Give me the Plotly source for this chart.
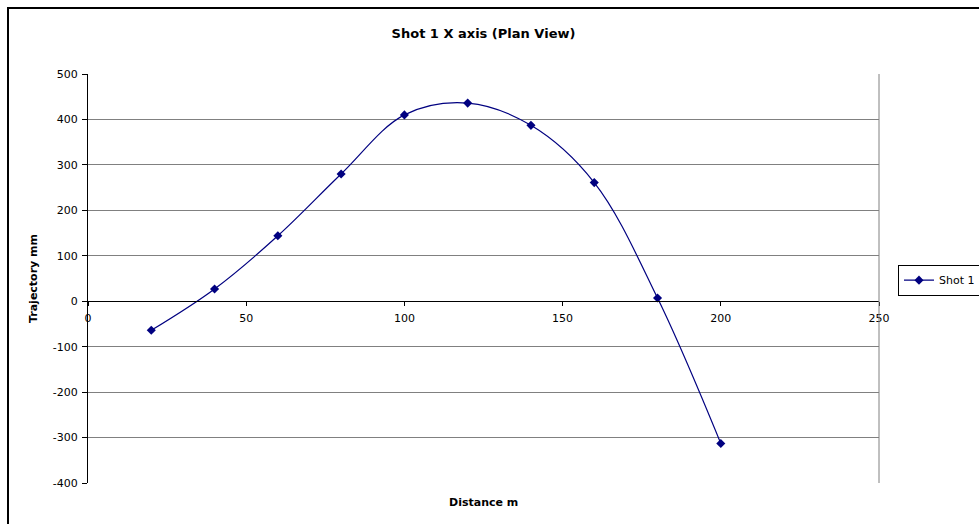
import plotly.graph_objects as go

# Shot 1 trajectory, plan view
distance_m = [20, 40, 60, 80, 100, 120, 140, 160, 180, 200]
trajectory_mm = [-64, 27, 144, 280, 410, 436, 387, 261, 7, -313]

x_ticks = [0, 50, 100, 150, 200, 250]
y_ticks = [-400, -300, -200, -100, 0, 100, 200, 300, 400, 500]

series_name = "Shot 1"
chart_title = "Shot 1 X axis (Plan View)"
x_title = "Distance m"
y_title = "Trajectory mm"

NAVY = "#000080"
FONT = "DejaVu Sans, Liberation Sans, Arial, sans-serif"

fig = go.Figure()
fig.add_trace(go.Scatter(
    x=distance_m, y=trajectory_mm, name=series_name,
    mode="lines+markers",
    line=dict(color=NAVY, width=1.2, shape="spline", smoothing=1.0),
    marker=dict(symbol="diamond", size=7, color=NAVY),
))

Y_MIN, Y_MAX = y_ticks[0], y_ticks[-1]
zero_frac = (0 - Y_MIN) / (Y_MAX - Y_MIN)

fig.update_layout(
    width=979, height=524,
    margin=dict(l=88, r=100, t=74, b=41, autoexpand=False),
    paper_bgcolor="white", plot_bgcolor="white",
    font=dict(family=FONT, size=11, color="black"),
    title=dict(text=f"<b>{chart_title}</b>", x=0.5, xref="paper",
               y=1 - 33 / 524, yanchor="middle",
               font=dict(size=13, family=FONT, color="black")),
    showlegend=True,
    legend=dict(x=1.024, y=0.496, xanchor="left", yanchor="middle",
                bordercolor="black", borderwidth=1, bgcolor="white",
                font=dict(size=11, family=FONT),
                itemwidth=30, tracegroupgap=0),
    xaxis=dict(range=[x_ticks[0], x_ticks[-1]],
               tickvals=x_ticks, ticktext=[str(v) for v in x_ticks],
               showgrid=False, zeroline=False,
               showline=True, linecolor="black", linewidth=1,
               ticks="outside", ticklen=4, tickcolor="black",
               ticklabelstandoff=3,
               anchor="free", position=zero_frac,
               tickfont=dict(size=11)),
    yaxis=dict(range=[Y_MIN, Y_MAX],
               tickvals=y_ticks, ticktext=[str(v) for v in y_ticks],
               showgrid=True, gridcolor="#808080", gridwidth=1,
               zeroline=False,
               showline=True, linecolor="black", linewidth=1,
               ticks="outside", ticklen=5, tickcolor="black",
               ticklabelstandoff=2,
               title=dict(text=f"<b>{y_title}</b>", standoff=12,
                          font=dict(size=11)),
               tickfont=dict(size=11)),
    annotations=[dict(text=f"<b>{x_title}</b>", xref="paper", yref="paper",
                      x=0.5, y=-19 / 409, xanchor="center", yanchor="middle",
                      showarrow=False, font=dict(size=11, family=FONT))],
    shapes=[
        # right edge of the plot area
        dict(type="line", xref="paper", yref="paper", x0=1, x1=1, y0=0, y1=1,
             line=dict(color="#808080", width=1)),
        # outer chart frame
        dict(type="rect", xref="paper", yref="paper",
             x0=(8 - 88) / 791, x1=1.3, y0=-0.3, y1=1 + 66 / 409,
             line=dict(color="black", width=2), layer="below"),
    ],
)

fig.write_html("out.html")
